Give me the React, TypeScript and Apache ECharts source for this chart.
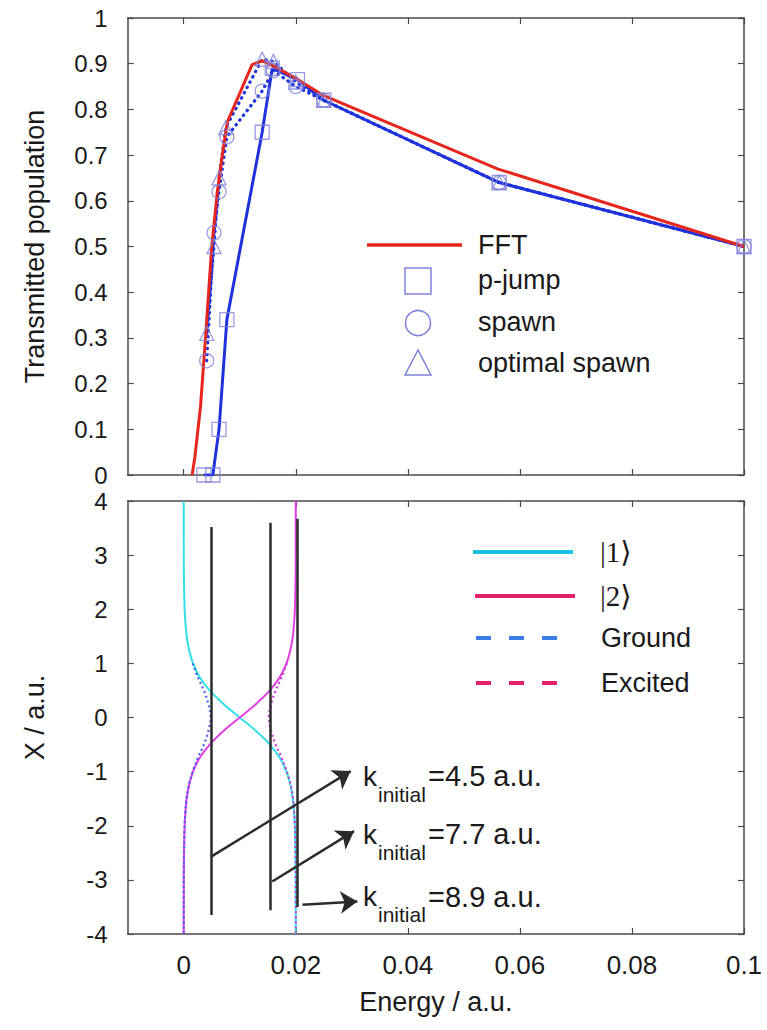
import React, { useEffect, useRef } from "react";
import * as echarts from "echarts";

// ---------- Top panel: transmitted population vs energy ----------
const fftEnergy = [0.0015, 0.002, 0.003, 0.004, 0.005, 0.006, 0.007, 0.0078, 0.0122, 0.014, 0.016, 0.02, 0.025, 0.056, 0.1];
const fftPop = [0.0, 0.04, 0.15, 0.32, 0.5, 0.62, 0.71, 0.773, 0.898, 0.906, 0.895, 0.868, 0.83, 0.67, 0.5];

const pjumpEnergy = [0.0036, 0.0052, 0.0063, 0.0077, 0.014, 0.0158, 0.0203, 0.025, 0.0563, 0.1];
const pjumpPop = [0.0, 0.0, 0.1, 0.34, 0.75, 0.89, 0.865, 0.82, 0.64, 0.5];

const spawnEnergy = [0.0041, 0.0054, 0.0063, 0.0077, 0.014, 0.016, 0.02, 0.025, 0.0563, 0.1];
const spawnPop = [0.25, 0.53, 0.62, 0.74, 0.84, 0.885, 0.85, 0.82, 0.64, 0.5];

const optEnergy = [0.0041, 0.0054, 0.0063, 0.0075, 0.014, 0.016, 0.02, 0.025, 0.0563, 0.1];
const optPop = [0.31, 0.5, 0.65, 0.76, 0.91, 0.905, 0.86, 0.82, 0.64, 0.5];

const popTicks = [0, 0.1, 0.2, 0.3, 0.4, 0.5, 0.6, 0.7, 0.8, 0.9, 1];
const energyTicks = [0, 0.02, 0.04, 0.06, 0.08, 0.1];
const positionTicks = [-4, -3, -2, -1, 0, 1, 2, 3, 4];

// ---------- Bottom panel: potential curves vs position ----------
const positionX = [4, 3, 2.5, 2, 1.75, 1.5, 1.25, 1, 0.75, 0.5, 0.25, 0, -0.25, -0.5, -0.75, -1, -1.25, -1.5, -1.75, -2, -2.5, -3, -4];
const state1Energy = [0.0, 0.00001, 0.00005, 0.00016, 0.0003, 0.00053, 0.00095, 0.00166, 0.00284, 0.00463, 0.00709, 0.01, 0.01291, 0.01537, 0.01716, 0.01834, 0.01905, 0.01947, 0.0197, 0.01984, 0.01995, 0.01999, 0.02];
const state2Energy = [0.02, 0.01999, 0.01995, 0.01984, 0.0197, 0.01947, 0.01905, 0.01834, 0.01716, 0.01537, 0.01291, 0.01, 0.00709, 0.00463, 0.00284, 0.00166, 0.00095, 0.00053, 0.0003, 0.00016, 0.00005, 0.00001, 0.0];

const adiabaticX = [1, 0.75, 0.5, 0.25, 0, -0.25, -0.5, -0.75, -1, -1.25, -1.5, -1.75, -2, -2.5, -3, -4];
const groundEnergy = [0.0016, 0.0025, 0.0036, 0.0044, 0.0048, 0.0044, 0.0036, 0.0025, 0.0016, 0.0009, 0.0005, 0.0003, 0.00016, 0.00005, 0.00001, 0.0];
const excitedEnergy = [0.0184, 0.0175, 0.0164, 0.0156, 0.0152, 0.0156, 0.0164, 0.0175, 0.0184, 0.0191, 0.0195, 0.0197, 0.01984, 0.01995, 0.01999, 0.02];

const kLineEnergy = [0.0049, 0.0155, 0.0202];
const kLineTop = [3.52, 3.6, 3.67];
const kLineBottom = [-3.65, -3.56, -3.5];

const arrowStart = [[0.0049, -2.57], [0.0158, -3.03], [0.0212, -3.46]];
const arrowEnd = [[0.0298, -0.99], [0.0304, -2.1], [0.031, -3.4]];

const kValues = ["=4.5 a.u.", "=7.7 a.u.", "=8.9 a.u."];
const kLabelAnchor = [[0.032, -1.09], [0.032, -2.16], [0.032, -3.31]];

const FONT = "'Liberation Sans', Arial, Helvetica, sans-serif";
const AXIS_COLOR = "#4a4a4a";
const TEXT_COLOR = "#1a1a1a";
const MARKER_COLOR = "#7f82dc";
const BLUE = "#1f33dc";
const RED = "#e6261c";

const zip = (a: number[], b: number[]) => a.map((v, i) => [v, b[i]]);

function axisCommon(extra: any) {
  return {
    type: "value",
    axisLine: { show: true, onZero: false, lineStyle: { color: AXIS_COLOR, width: 1.5 } },
    splitLine: { show: false },
    ...extra,
  };
}

export default function App() {
  const ref = useRef<HTMLDivElement>(null);

  useEffect(() => {
    document.body.style.margin = "0";
    const chart = echarts.init(ref.current!, null, { renderer: "svg" });

    const grid0 = { left: 127.7, top: 18, width: 616.3, height: 457 };
    const grid1 = { left: 127.7, top: 501, width: 616.3, height: 433 };

    const tickIn = { show: true, inside: true, length: 6, lineStyle: { color: AXIS_COLOR, width: 1.2 } };
    const labelStyle = { color: TEXT_COLOR, fontSize: 26, fontFamily: FONT };
    const yLabelStyle = { color: TEXT_COLOR, fontSize: 24, fontFamily: FONT };

    const option: any = {
      animation: false,
      backgroundColor: "#ffffff",
      grid: [grid0, grid1],
      xAxis: [
        axisCommon({
          gridIndex: 0, min: -0.01, max: 0.1, position: "bottom",
          axisTick: { ...tickIn, customValues: energyTicks },
          axisLabel: { show: false, customValues: energyTicks },
        }),
        axisCommon({
          gridIndex: 0, min: -0.01, max: 0.1, position: "top",
          axisTick: { ...tickIn, customValues: energyTicks },
          axisLabel: { show: false, customValues: energyTicks },
        }),
        axisCommon({
          gridIndex: 1, min: -0.01, max: 0.1, position: "bottom",
          axisTick: { ...tickIn, customValues: energyTicks },
          axisLabel: { ...labelStyle, margin: 18, customValues: energyTicks },
          name: "Energy / a.u.",
          nameLocation: "middle",
          nameGap: 54,
          nameTextStyle: { ...labelStyle, fontSize: 27 },
        }),
        axisCommon({
          gridIndex: 1, min: -0.01, max: 0.1, position: "top",
          axisTick: { ...tickIn, customValues: energyTicks },
          axisLabel: { show: false, customValues: energyTicks },
        }),
      ],
      yAxis: [
        axisCommon({
          gridIndex: 0, min: 0, max: 1, interval: 0.1, position: "left",
          axisTick: tickIn,
          axisLabel: { ...yLabelStyle, margin: 20, lineHeight: 20, customValues: popTicks },
          name: "Transmitted population",
          nameLocation: "middle",
          nameGap: 79,
          nameTextStyle: { ...labelStyle, fontSize: 27 },
        }),
        axisCommon({
          gridIndex: 0, min: 0, max: 1, interval: 0.1, position: "right",
          axisTick: tickIn, axisLabel: { show: false },
        }),
        axisCommon({
          gridIndex: 1, min: -4, max: 4, interval: 1, position: "left",
          axisTick: tickIn,
          axisLabel: { ...yLabelStyle, margin: 20, lineHeight: 20, customValues: positionTicks },
          name: "X / a.u.",
          nameLocation: "middle",
          nameGap: 79,
          nameTextStyle: { ...labelStyle, fontSize: 27 },
        }),
        axisCommon({
          gridIndex: 1, min: -4, max: 4, interval: 1, position: "right",
          axisTick: tickIn, axisLabel: { show: false },
        }),
      ],
      series: [
        // ----- top panel -----
        {
          name: "p-jump line", type: "line", xAxisIndex: 0, yAxisIndex: 0,
          data: zip(pjumpEnergy, pjumpPop), showSymbol: false, symbol: "none",
          lineStyle: { color: BLUE, width: 3 }, z: 3,
        },
        {
          name: "spawn line", type: "line", xAxisIndex: 0, yAxisIndex: 0,
          data: zip(spawnEnergy, spawnPop), showSymbol: false, symbol: "none",
          lineStyle: { color: BLUE, width: 3.2, type: [0.5, 5.5], cap: "round" }, z: 3,
        },
        {
          name: "optimal spawn line", type: "line", xAxisIndex: 0, yAxisIndex: 0,
          data: zip(optEnergy, optPop), showSymbol: false, symbol: "none",
          lineStyle: { color: BLUE, width: 3.2, type: [0.5, 5.5], cap: "round" }, z: 3,
        },
        {
          name: "FFT", type: "line", xAxisIndex: 0, yAxisIndex: 0,
          data: zip(fftEnergy, fftPop), showSymbol: false, symbol: "none",
          lineStyle: { color: RED, width: 3 }, z: 4,
        },
        {
          name: "p-jump", type: "scatter", xAxisIndex: 0, yAxisIndex: 0,
          data: zip(pjumpEnergy, pjumpPop), symbol: "rect", symbolSize: 14,
          itemStyle: { color: "rgba(0,0,0,0)", borderColor: MARKER_COLOR, borderWidth: 1.3 }, z: 5,
        },
        {
          name: "spawn", type: "scatter", xAxisIndex: 0, yAxisIndex: 0,
          data: zip(spawnEnergy, spawnPop), symbol: "circle", symbolSize: 14,
          itemStyle: { color: "rgba(0,0,0,0)", borderColor: MARKER_COLOR, borderWidth: 1.3 }, z: 5,
        },
        {
          name: "optimal spawn", type: "scatter", xAxisIndex: 0, yAxisIndex: 0,
          data: zip(optEnergy, optPop), symbol: "triangle", symbolSize: 14,
          itemStyle: { color: "rgba(0,0,0,0)", borderColor: MARKER_COLOR, borderWidth: 1.3 }, z: 5,
        },
        // ----- bottom panel -----
        {
          name: "|1>", type: "line", xAxisIndex: 2, yAxisIndex: 2,
          data: zip(state1Energy, positionX), showSymbol: false, symbol: "none", smooth: 0.35,
          lineStyle: { color: "#33e0e6", width: 2 }, z: 2,
        },
        {
          name: "|2>", type: "line", xAxisIndex: 2, yAxisIndex: 2,
          data: zip(state2Energy, positionX), showSymbol: false, symbol: "none", smooth: 0.35,
          lineStyle: { color: "#e03ee0", width: 2 }, z: 2,
        },
        {
          name: "Ground", type: "line", xAxisIndex: 2, yAxisIndex: 2,
          data: zip(groundEnergy, adiabaticX), showSymbol: false, symbol: "none", smooth: 0.35,
          lineStyle: { color: "#4a5ef0", width: 2.2, type: [2, 3] }, z: 3,
        },
        {
          name: "Excited", type: "line", xAxisIndex: 2, yAxisIndex: 2,
          data: zip(excitedEnergy, adiabaticX), showSymbol: false, symbol: "none", smooth: 0.35,
          lineStyle: { color: "#c83ad8", width: 2.2, type: [2, 3] }, z: 3,
        },
        {
          name: "k lines", type: "lines", coordinateSystem: "cartesian2d", xAxisIndex: 2, yAxisIndex: 2,
          data: kLineEnergy.map((e, i) => ({ coords: [[e, kLineTop[i]], [e, kLineBottom[i]]] })),
          lineStyle: { color: "#2b2b2b", width: 2.5, opacity: 1 }, symbol: "none", z: 4,
        },
        {
          name: "arrows", type: "lines", coordinateSystem: "cartesian2d", xAxisIndex: 2, yAxisIndex: 2,
          data: arrowStart.map((s, i) => ({ coords: [s, arrowEnd[i]] })),
          lineStyle: { color: "#2b2b2b", width: 2.5, opacity: 1 },
          symbol: ["none", "arrow"], symbolSize: [13, 17], z: 5,
        },
      ],
    };

    chart.setOption(option);

    const txt = (x: number, y: number, text: string, extra: any = {}) => ({
      type: "text", x, y,
      style: { text, fill: TEXT_COLOR, font: `26px ${FONT}`, textAlign: "left", textVerticalAlign: "middle", ...extra },
      z: 100,
    });

    const legendTop: any[] = [
      { type: "line", shape: { x1: 367, y1: 245, x2: 462, y2: 245 }, style: { stroke: RED, lineWidth: 3.5 }, z: 100 },
      txt(478, 245, "FFT", { font: `27px ${FONT}` }),
      { type: "rect", shape: { x: 405, y: 268, width: 26, height: 26 }, style: { fill: "none", stroke: MARKER_COLOR, lineWidth: 1.5 }, z: 100 },
      txt(478, 280, "p-jump", { font: `27px ${FONT}` }),
      { type: "circle", shape: { cx: 418, cy: 323, r: 12.5 }, style: { fill: "none", stroke: MARKER_COLOR, lineWidth: 1.5 }, z: 100 },
      txt(478, 322, "spawn", { font: `27px ${FONT}` }),
      { type: "polygon", shape: { points: [[418, 350], [405, 375], [431, 375]] }, style: { fill: "none", stroke: MARKER_COLOR, lineWidth: 1.5 }, z: 100 },
      txt(478, 363, "optimal spawn", { font: `27px ${FONT}` }),
    ];

    const SERIF = "'Liberation Serif', 'DejaVu Serif', serif";
    const legendBottom: any[] = [
      { type: "line", shape: { x1: 473, y1: 552, x2: 573, y2: 552 }, style: { stroke: "#1fc0e6", lineWidth: 4 }, z: 100 },
      txt(600, 552, "|1\u27E9", { font: `29px ${SERIF}` }),
      { type: "line", shape: { x1: 475, y1: 596, x2: 575, y2: 596 }, style: { stroke: "#e5206a", lineWidth: 4 }, z: 100 },
      txt(600, 596, "|2\u27E9", { font: `29px ${SERIF}` }),
      { type: "line", shape: { x1: 476, y1: 638, x2: 557, y2: 638 }, style: { stroke: "#3b7de8", lineWidth: 4, lineDash: [15, 18] }, z: 100 },
      txt(601, 638, "Ground", { font: `27px ${FONT}` }),
      { type: "line", shape: { x1: 476, y1: 683, x2: 557, y2: 683 }, style: { stroke: "#e5206a", lineWidth: 4, lineDash: [15, 18] }, z: 100 },
      txt(601, 683, "Excited", { font: `27px ${FONT}` }),
    ];

    const kTexts: any[] = [];
    kLabelAnchor.forEach((a, i) => {
      const p = chart.convertToPixel({ xAxisIndex: 2, yAxisIndex: 2 }, a) as number[];
      kTexts.push(txt(p[0], p[1], "k", { font: `28px ${FONT}` }));
      kTexts.push(txt(p[0] + 15, p[1] + 18, "initial", { font: `21px ${FONT}` }));
      kTexts.push(txt(p[0] + 65, p[1], kValues[i], { font: `29px ${FONT}` }));
    });

    chart.setOption({ graphic: [...legendTop, ...legendBottom, ...kTexts] });

    return () => chart.dispose();
  }, []);

  return <div ref={ref} style={{ position: "absolute", left: 0, top: 0, width: 767, height: 1030, background: "#fff" }} />;
}
